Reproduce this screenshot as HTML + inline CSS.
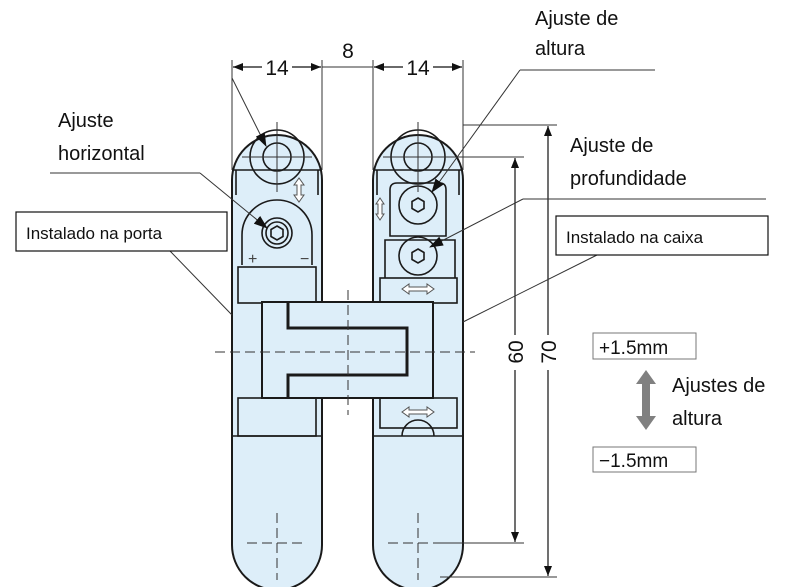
<!DOCTYPE html>
<html><head><meta charset="utf-8"><style>
html,body{margin:0;padding:0;background:#fff;}
svg{display:block;}
text{font-family:"Liberation Sans",sans-serif;}
</style></head><body>
<svg width="800" height="587" viewBox="0 0 800 587" xmlns="http://www.w3.org/2000/svg">
<defs>
<marker id="a" markerWidth="10" markerHeight="8" refX="10" refY="4" orient="auto" markerUnits="userSpaceOnUse"><path d="M0,0 L10,4 L0,8 z" fill="#111"/></marker>
<marker id="b" markerWidth="14" markerHeight="10" refX="13" refY="5" orient="auto" markerUnits="userSpaceOnUse"><path d="M0,0 L14,5 L0,10 z" fill="#111"/></marker>
</defs>
<g fill="#ddeef9" stroke="#1a1a1a" stroke-width="2">
<path d="M232,180 A45,45 0 0 1 322,180 L322,545 A45,45 0 0 1 232,545 Z"/>
<path d="M373,180 A45,45 0 0 1 463,180 L463,545 A45,45 0 0 1 373,545 Z"/>
</g>
<g fill="none" stroke="#1a1a1a" stroke-width="1.6">
<path d="M232,170 L322,170 M373,170 L463,170"/>
<path d="M236,170 V195 M318,170 V195 M377,170 V195 M459,170 V195"/>
<circle cx="277" cy="157" r="27"/><circle cx="277" cy="157" r="14"/>
<circle cx="418" cy="157" r="27"/><circle cx="418" cy="157" r="14"/>
<path d="M242,265 V235 A35,35 0 0 1 312,235 V265"/>
<circle cx="277" cy="233" r="15"/><circle cx="277" cy="233" r="11"/>
<polygon points="277,226 283,229.5 283,236.5 277,240 271,236.5 271,229.5"/>
<rect x="238" y="267" width="78" height="36"/>
<rect x="238" y="398" width="78" height="38"/>
<path d="M232,436 H322 M373,436 H463"/>
<circle cx="418" cy="205" r="19"/>
<polygon points="418,198 424,201.5 424,208.5 418,212 412,208.5 412,201.5"/>
<circle cx="418" cy="256" r="19"/>
<polygon points="418,249 424,252.5 424,259.5 418,263 412,259.5 412,252.5"/>
<path d="M390,236 V190 Q390,183 397,183 H440 Q446,183 446,190 V236 Z"/>
<path d="M385,278 V240 H455 V278"/>
<rect x="380" y="278" width="77" height="25"/>
<rect x="380" y="398" width="77" height="30"/>
<path d="M402,436 A16,16 0 0 1 434,436"/>
</g>
<!-- center bar on top -->
<rect x="262" y="302" width="171" height="96" fill="#ddeef9" stroke="#1a1a1a" stroke-width="2"/>
<path d="M288,302 V328 H407 V375 H288 V398" fill="none" stroke="#1a1a1a" stroke-width="3"/>
<g stroke="#333" stroke-width="1" fill="none" stroke-dasharray="10,5">
<path d="M215,352 H475"/>
<path d="M348,290 V415"/>
<path d="M247,543 H307 M277,513 V580 M388,543 H448 M418,513 V580"/>
</g>
<g stroke="#333" stroke-width="1"><path d="M242,157 H312 M277,122 V192 M383,157 H453 M418,122 V192"/></g>
<g fill="#fff" stroke="#555" stroke-width="1">
<path d="M402,289 l7,-5 v3 h18 v-3 l7,5 l-7,5 v-3 h-18 v3 z"/>
<path d="M402,412 l7,-5 v3 h18 v-3 l7,5 l-7,5 v-3 h-18 v3 z"/>
<path d="M299,178 l-5,7 h3 v10 h-3 l5,7 l5,-7 h-3 v-10 h3 z"/>
<path d="M380,198 l-4,6 h2 v10 h-2 l4,6 l4,-6 h-2 v-10 h2 z"/>
</g>
<text x="248" y="264" font-size="16" fill="#444">+</text>
<text x="300" y="264" font-size="16" fill="#444">−</text>
<g stroke="#333" stroke-width="1" fill="none">
<path d="M232,60 V170 M322,60 V170 M373,60 V170 M463,60 V170"/>
<path d="M322,67 H373"/>
<path d="M463,125 H557 M440,157 H524 M440,543 H524 M440,577 H557"/>
</g>
<g stroke="#111" stroke-width="1.2">
<line x1="262" y1="67" x2="233" y2="67" marker-end="url(#a)"/>
<line x1="292" y1="67" x2="321" y2="67" marker-end="url(#a)"/>
<line x1="403" y1="67" x2="374" y2="67" marker-end="url(#a)"/>
<line x1="433" y1="67" x2="462" y2="67" marker-end="url(#a)"/>
<line x1="548" y1="335" x2="548" y2="126" marker-end="url(#a)"/>
<line x1="548" y1="370" x2="548" y2="576" marker-end="url(#a)"/>
<line x1="515" y1="335" x2="515" y2="158" marker-end="url(#a)"/>
<line x1="515" y1="370" x2="515" y2="542" marker-end="url(#a)"/>
</g>
<g font-size="21" fill="#111" text-anchor="middle">
<text x="277" y="75">14</text><text x="348" y="58">8</text><text x="418" y="75">14</text>
<text transform="translate(523,352) rotate(-90)">60</text>
<text transform="translate(556,352) rotate(-90)">70</text>
</g>
<g stroke="#333" stroke-width="1" fill="none">
<line x1="232" y1="78" x2="266" y2="146" marker-end="url(#b)"/>
<path d="M50,173 H200"/><line x1="200" y1="173" x2="267" y2="228" marker-end="url(#b)"/>
<path d="M655,70 H520"/><line x1="520" y1="70" x2="432" y2="192" marker-end="url(#b)"/>
<path d="M766,199 H523"/><line x1="523" y1="199" x2="430" y2="247" marker-end="url(#b)"/>
<path d="M170,251 L232,315"/>
<path d="M597,255 L463,322"/>
</g>
<g font-size="20" fill="#111">
<text x="58" y="127">Ajuste</text><text x="58" y="160">horizontal</text>
<text x="535" y="25">Ajuste de</text><text x="535" y="55">altura</text>
<text x="570" y="152">Ajuste de</text><text x="570" y="185">profundidade</text>
<text x="672" y="392">Ajustes de</text><text x="672" y="425">altura</text>
</g>
<rect x="16" y="212" width="211" height="39" fill="#fff" stroke="#111" stroke-width="1.2"/>
<text x="26" y="239" font-size="17" fill="#111">Instalado na porta</text>
<rect x="556" y="216" width="212" height="39" fill="#fff" stroke="#111" stroke-width="1.2"/>
<text x="566" y="243" font-size="17" fill="#111">Instalado na caixa</text>
<rect x="593" y="333" width="103" height="26" fill="#fff" stroke="#777" stroke-width="1"/>
<text x="599" y="354" font-size="19" fill="#111">+1.5mm</text>
<rect x="593" y="447" width="103" height="25" fill="#fff" stroke="#777" stroke-width="1"/>
<text x="599" y="467" font-size="19" fill="#111">−1.5mm</text>
<path d="M646,370 L656,384 H650 V416 H656 L646,430 L636,416 H642 V384 H636 Z" fill="#808080"/>
</svg>
</body></html>
